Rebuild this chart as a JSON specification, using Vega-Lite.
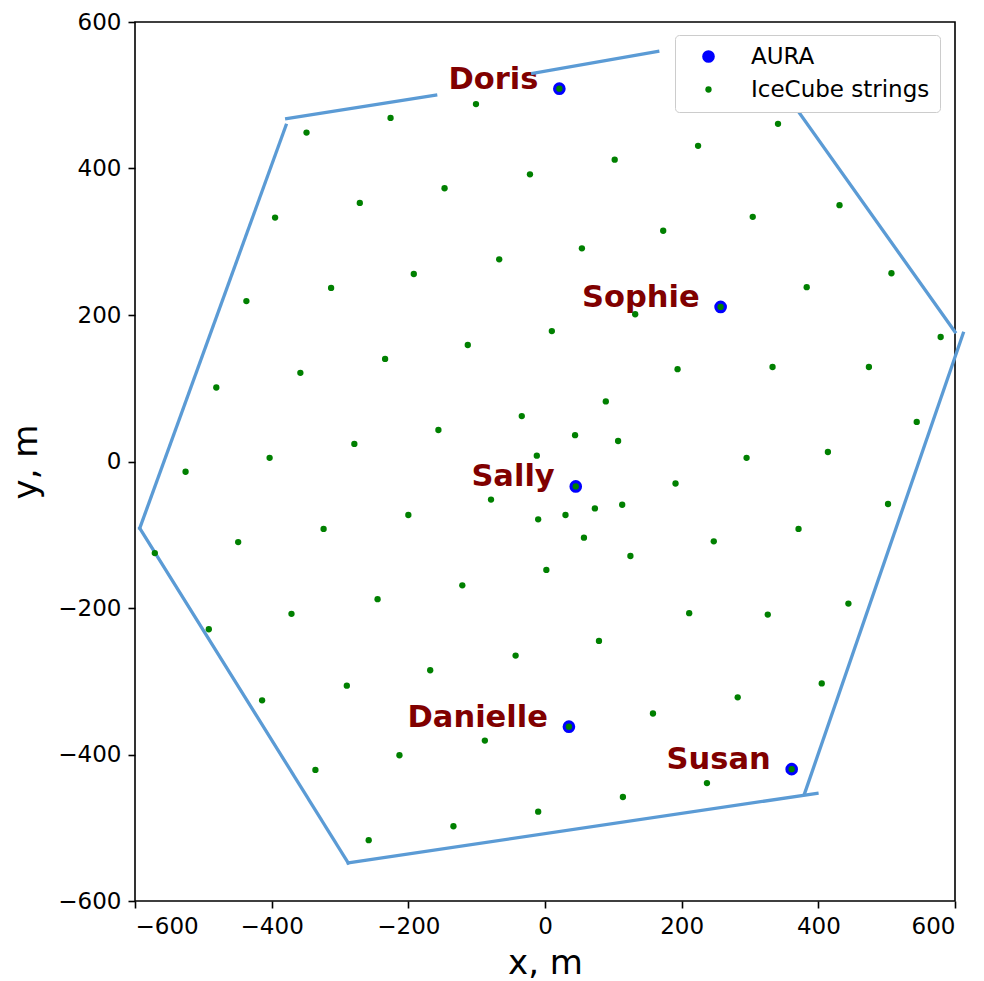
{
  "$schema": "https://vega.github.io/schema/vega-lite/v6.json",
  "width": 820,
  "height": 879,
  "autosize": {"type": "none"},
  "padding": {"left": 135, "top": 22, "right": 29, "bottom": 80},
  "background": "white",
  "datasets": {
    "edges": [
      {"x": -378, "y": 468, "x2": -160, "y2": 500},
      {"x": -18, "y": 530, "x2": 165, "y2": 560},
      {"x": 366, "y": 484, "x2": 600, "y2": 177},
      {"x": 612, "y": 175, "x2": 380, "y2": -453},
      {"x": 398, "y": -453, "x2": -288, "y2": -548},
      {"x": -288, "y": -548, "x2": -593, "y2": -91},
      {"x": -593, "y": -91, "x2": -379, "y2": 459}
    ],
    "points": [
      {"kind": "AURA", "name": "Doris", "x": 21, "y": 509},
      {"kind": "AURA", "name": "Sophie", "x": 257, "y": 211},
      {"kind": "AURA", "name": "Sally", "x": 45, "y": -34},
      {"kind": "AURA", "name": "Danielle", "x": 35, "y": -362},
      {"kind": "AURA", "name": "Susan", "x": 361, "y": -420},
      {"kind": "IceCube strings", "x": -349, "y": 449},
      {"kind": "IceCube strings", "x": -226, "y": 469},
      {"kind": "IceCube strings", "x": -101, "y": 488},
      {"kind": "IceCube strings", "x": -395, "y": 333},
      {"kind": "IceCube strings", "x": -271, "y": 353},
      {"kind": "IceCube strings", "x": -147, "y": 373},
      {"kind": "IceCube strings", "x": -22, "y": 392},
      {"kind": "IceCube strings", "x": -437, "y": 219},
      {"kind": "IceCube strings", "x": -313, "y": 237},
      {"kind": "IceCube strings", "x": -192, "y": 256},
      {"kind": "IceCube strings", "x": -67, "y": 276},
      {"kind": "IceCube strings", "x": 21, "y": 509},
      {"kind": "IceCube strings", "x": 341, "y": 461},
      {"kind": "IceCube strings", "x": 224, "y": 431},
      {"kind": "IceCube strings", "x": 102, "y": 412},
      {"kind": "IceCube strings", "x": 431, "y": 350},
      {"kind": "IceCube strings", "x": 304, "y": 334},
      {"kind": "IceCube strings", "x": 173, "y": 315},
      {"kind": "IceCube strings", "x": 54, "y": 291},
      {"kind": "IceCube strings", "x": 507, "y": 257},
      {"kind": "IceCube strings", "x": 383, "y": 238},
      {"kind": "IceCube strings", "x": 257, "y": 211},
      {"kind": "IceCube strings", "x": 132, "y": 201},
      {"kind": "IceCube strings", "x": -113, "y": 159},
      {"kind": "IceCube strings", "x": -234, "y": 140},
      {"kind": "IceCube strings", "x": -358, "y": 121},
      {"kind": "IceCube strings", "x": -481, "y": 101},
      {"kind": "IceCube strings", "x": -34, "y": 62},
      {"kind": "IceCube strings", "x": -156, "y": 43},
      {"kind": "IceCube strings", "x": -279, "y": 24},
      {"kind": "IceCube strings", "x": -403, "y": 5},
      {"kind": "IceCube strings", "x": -526, "y": -14},
      {"kind": "IceCube strings", "x": -12, "y": 8},
      {"kind": "IceCube strings", "x": -79, "y": -52},
      {"kind": "IceCube strings", "x": -10, "y": -79},
      {"kind": "IceCube strings", "x": -200, "y": -73},
      {"kind": "IceCube strings", "x": -324, "y": -92},
      {"kind": "IceCube strings", "x": -449, "y": -110},
      {"kind": "IceCube strings", "x": -571, "y": -125},
      {"kind": "IceCube strings", "x": 2, "y": -148},
      {"kind": "IceCube strings", "x": -121, "y": -169},
      {"kind": "IceCube strings", "x": -245, "y": -188},
      {"kind": "IceCube strings", "x": 10, "y": 178},
      {"kind": "IceCube strings", "x": 579, "y": 170},
      {"kind": "IceCube strings", "x": 194, "y": 126},
      {"kind": "IceCube strings", "x": 333, "y": 129},
      {"kind": "IceCube strings", "x": 474, "y": 129},
      {"kind": "IceCube strings", "x": 89, "y": 82},
      {"kind": "IceCube strings", "x": 544, "y": 54},
      {"kind": "IceCube strings", "x": 44, "y": 36},
      {"kind": "IceCube strings", "x": 107, "y": 28},
      {"kind": "IceCube strings", "x": 414, "y": 13},
      {"kind": "IceCube strings", "x": 295, "y": 5},
      {"kind": "IceCube strings", "x": 45, "y": -34},
      {"kind": "IceCube strings", "x": 191, "y": -30},
      {"kind": "IceCube strings", "x": 73, "y": -64},
      {"kind": "IceCube strings", "x": 113, "y": -59},
      {"kind": "IceCube strings", "x": 30, "y": -73},
      {"kind": "IceCube strings", "x": 502, "y": -58},
      {"kind": "IceCube strings", "x": 371, "y": -92},
      {"kind": "IceCube strings", "x": 57, "y": -104},
      {"kind": "IceCube strings", "x": 247, "y": -109},
      {"kind": "IceCube strings", "x": 125, "y": -129},
      {"kind": "IceCube strings", "x": 444, "y": -194},
      {"kind": "IceCube strings", "x": 211, "y": -207},
      {"kind": "IceCube strings", "x": 326, "y": -209},
      {"kind": "IceCube strings", "x": 79, "y": -245},
      {"kind": "IceCube strings", "x": 405, "y": -303},
      {"kind": "IceCube strings", "x": 282, "y": -322},
      {"kind": "IceCube strings", "x": 158, "y": -344},
      {"kind": "IceCube strings", "x": 35, "y": -362},
      {"kind": "IceCube strings", "x": 361, "y": -420},
      {"kind": "IceCube strings", "x": 237, "y": -439},
      {"kind": "IceCube strings", "x": 114, "y": -458},
      {"kind": "IceCube strings", "x": -10, "y": -478},
      {"kind": "IceCube strings", "x": -371, "y": -208},
      {"kind": "IceCube strings", "x": -492, "y": -229},
      {"kind": "IceCube strings", "x": -43, "y": -265},
      {"kind": "IceCube strings", "x": -168, "y": -285},
      {"kind": "IceCube strings", "x": -290, "y": -306},
      {"kind": "IceCube strings", "x": -414, "y": -326},
      {"kind": "IceCube strings", "x": -88, "y": -381},
      {"kind": "IceCube strings", "x": -213, "y": -401},
      {"kind": "IceCube strings", "x": -336, "y": -421},
      {"kind": "IceCube strings", "x": -134, "y": -498},
      {"kind": "IceCube strings", "x": -258, "y": -517}
    ]
  },
  "encoding": {
    "x": {
      "field": "x",
      "type": "quantitative",
      "scale": {"domain": [-600, 600], "nice": false, "zero": false},
      "axis": {"title": "x, m", "values": [-600, -400, -200, 0, 200, 400, 600]}
    },
    "y": {
      "field": "y",
      "type": "quantitative",
      "scale": {"domain": [-600, 600], "nice": false, "zero": false},
      "axis": {"title": "y, m", "values": [-600, -400, -200, 0, 200, 400, 600]}
    }
  },
  "layer": [
    {
      "data": {"name": "points"},
      "transform": [{"filter": "datum.kind === 'AURA'"}],
      "mark": {
        "type": "text",
        "font": "DejaVu Sans",
        "fontWeight": "bold",
        "fontSize": 30.5,
        "fill": "#800000",
        "align": "right",
        "baseline": "alphabetic",
        "dx": -21
      },
      "encoding": {
        "text": {"field": "name"}
      }
    },
    {
      "data": {"name": "edges"},
      "mark": {"type": "rule", "stroke": "#5b9bd5", "strokeWidth": 3.3, "strokeCap": "square"},
      "encoding": {
        "x2": {"field": "x2"},
        "y2": {"field": "y2"}
      }
    },
    {
      "data": {"name": "points"},
      "mark": {"type": "point", "shape": "circle", "filled": true, "opacity": 1, "strokeWidth": 0},
      "encoding": {
        "color": {
          "field": "kind",
          "type": "nominal",
          "scale": {"domain": ["AURA", "IceCube strings"], "range": ["#0000ff", "#008000"]},
          "legend": {"title": null}
        },
        "size": {
          "field": "kind",
          "type": "nominal",
          "scale": {"domain": ["AURA", "IceCube strings"], "range": [160, 40]},
          "legend": {"title": null}
        }
      }
    }
  ],
  "config": {
    "view": {"stroke": "black", "strokeWidth": 1.6},
    "axis": {
      "grid": false,
      "domain": false,
      "tickColor": "black",
      "tickWidth": 1.6,
      "tickSize": 7,
      "labelFont": "DejaVu Sans",
      "labelFontSize": 23,
      "labelColor": "black",
      "labelPadding": 7,
      "titleFont": "DejaVu Sans",
      "titleFontSize": 34,
      "titleFontWeight": "normal",
      "titleColor": "black"
    },
    "axisX": {"titlePadding": 8},
    "axisY": {"titlePadding": 14},
    "legend": {
      "orient": "none",
      "legendX": 540,
      "legendY": 13,
      "padding": 10,
      "symbolOffset": 12,
      "labelOffset": 31,
      "rowPadding": 9,
      "fillColor": "white",
      "strokeColor": "#cccccc",
      "cornerRadius": 4,
      "labelFont": "DejaVu Sans",
      "labelFontSize": 23,
      "labelColor": "black",
      "labelLimit": 400,
      "symbolStrokeWidth": 0
    }
  }
}
